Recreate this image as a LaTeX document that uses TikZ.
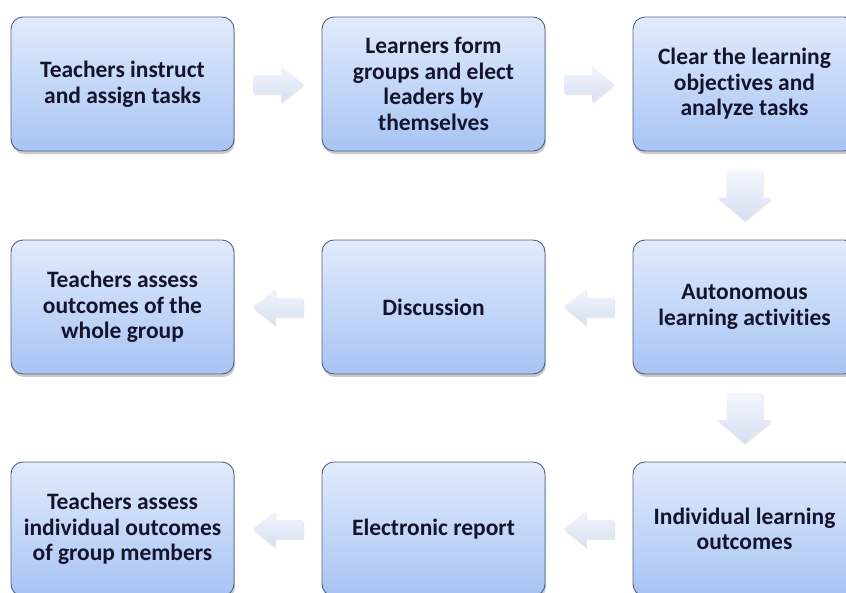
\documentclass[tikz,border=0pt]{standalone}
\usepackage{fontspec}
\setmainfont{Carlito}[Ligatures=NoCommon]
\usetikzlibrary{calc,shadows}
\definecolor{boxtop}{HTML}{E1EBFC}
\definecolor{boxbot}{HTML}{A8C4F4}
\definecolor{boxline}{HTML}{55627E}
\definecolor{txt}{HTML}{14142C}
\definecolor{arrtop}{HTML}{F3F6FD}
\definecolor{arrbot}{HTML}{D6DFF3}
\tikzset{
  stepbox/.style={draw=boxline, line width=0.9pt, rounded corners=12pt,
    top color=boxtop, bottom color=boxbot,
    minimum width=223pt, minimum height=134pt, inner sep=0pt,
    align=center, text=txt, font=\fontsize{23.5}{25.5}\selectfont\bfseries,
    drop shadow={shadow xshift=1pt, shadow yshift=-3pt, opacity=0.35, fill=black!60}},
  blockarrow/.style={top color=arrtop, bottom color=arrbot, draw=none,
    drop shadow={shadow xshift=1pt, shadow yshift=-2pt, opacity=0.15, fill=black!60}},
}
% block arrows drawn about a centre coordinate
\newcommand\arrowright[1]{\path[blockarrow] ($(#1)+(-25pt,9pt)$) -- ++(28pt,0) -- ++(0,9pt) -- ($(#1)+(25pt,0)$) -- ($(#1)+(3pt,-18pt)$) -- ++(0,9pt) -- ++(-28pt,0) -- cycle;}
\newcommand\arrowleft[1]{\path[blockarrow] ($(#1)+(25pt,9pt)$) -- ++(-28pt,0) -- ++(0,9pt) -- ($(#1)+(-25pt,0)$) -- ($(#1)+(-3pt,-18pt)$) -- ++(0,9pt) -- ++(28pt,0) -- cycle;}
\newcommand\arrowdown[1]{\path[blockarrow] ($(#1)+(-18pt,25pt)$) -- ++(36pt,0) -- ++(0,-27pt) -- ++(9pt,0) -- ($(#1)+(0,-25pt)$) -- ($(#1)+(-27pt,-2pt)$) -- ++(9pt,0) -- cycle;}
\begin{document}
\begin{tikzpicture}[x=1pt,y=-1pt]
\useasboundingbox (0,0) rectangle (846,592);
\clip (0,0) rectangle (846,592);
% first row
\node[stepbox] (b1) at (122.5,84) {Teachers instruct\\and assign tasks};
\node[stepbox] (b2) at (433.5,84) {Learners form\\groups and elect\\leaders by\\themselves};
\node[stepbox] (b3) at (744.5,84) {Clear the learning\\objectives and\\analyze tasks};
% second row
\node[stepbox] (b4) at (744.5,307) {Autonomous\\learning activities};
\node[stepbox] (b5) at (433.5,307) {Discussion};
\node[stepbox] (b6) at (122.5,307) {Teachers assess\\outcomes of the\\whole group};
% third row
\node[stepbox] (b7) at (744.5,529) {Individual learning\\outcomes};
\node[stepbox] (b8) at (433.5,529) {Electronic report};
\node[stepbox] (b9) at (122.5,529) {Teachers assess\\individual outcomes\\of group members};
% arrow centres between the boxes
\coordinate (m12) at ($(b1.east)!0.5!(b2.west)$);
\coordinate (m23) at ($(b2.east)!0.5!(b3.west)$);
\coordinate (m34) at ($(b3.south)!0.5!(b4.north)$);
\coordinate (m45) at ($(b4.west)!0.5!(b5.east)$);
\coordinate (m56) at ($(b5.west)!0.5!(b6.east)$);
\coordinate (m47) at ($(b4.south)!0.5!(b7.north)$);
\coordinate (m78) at ($(b7.west)!0.5!(b8.east)$);
\coordinate (m89) at ($(b8.west)!0.5!(b9.east)$);
\arrowright{m12}
\arrowright{m23}
\arrowdown{m34}
\arrowleft{m45}
\arrowleft{m56}
\arrowdown{m47}
\arrowleft{m78}
\arrowleft{m89}
\end{tikzpicture}
\end{document}
